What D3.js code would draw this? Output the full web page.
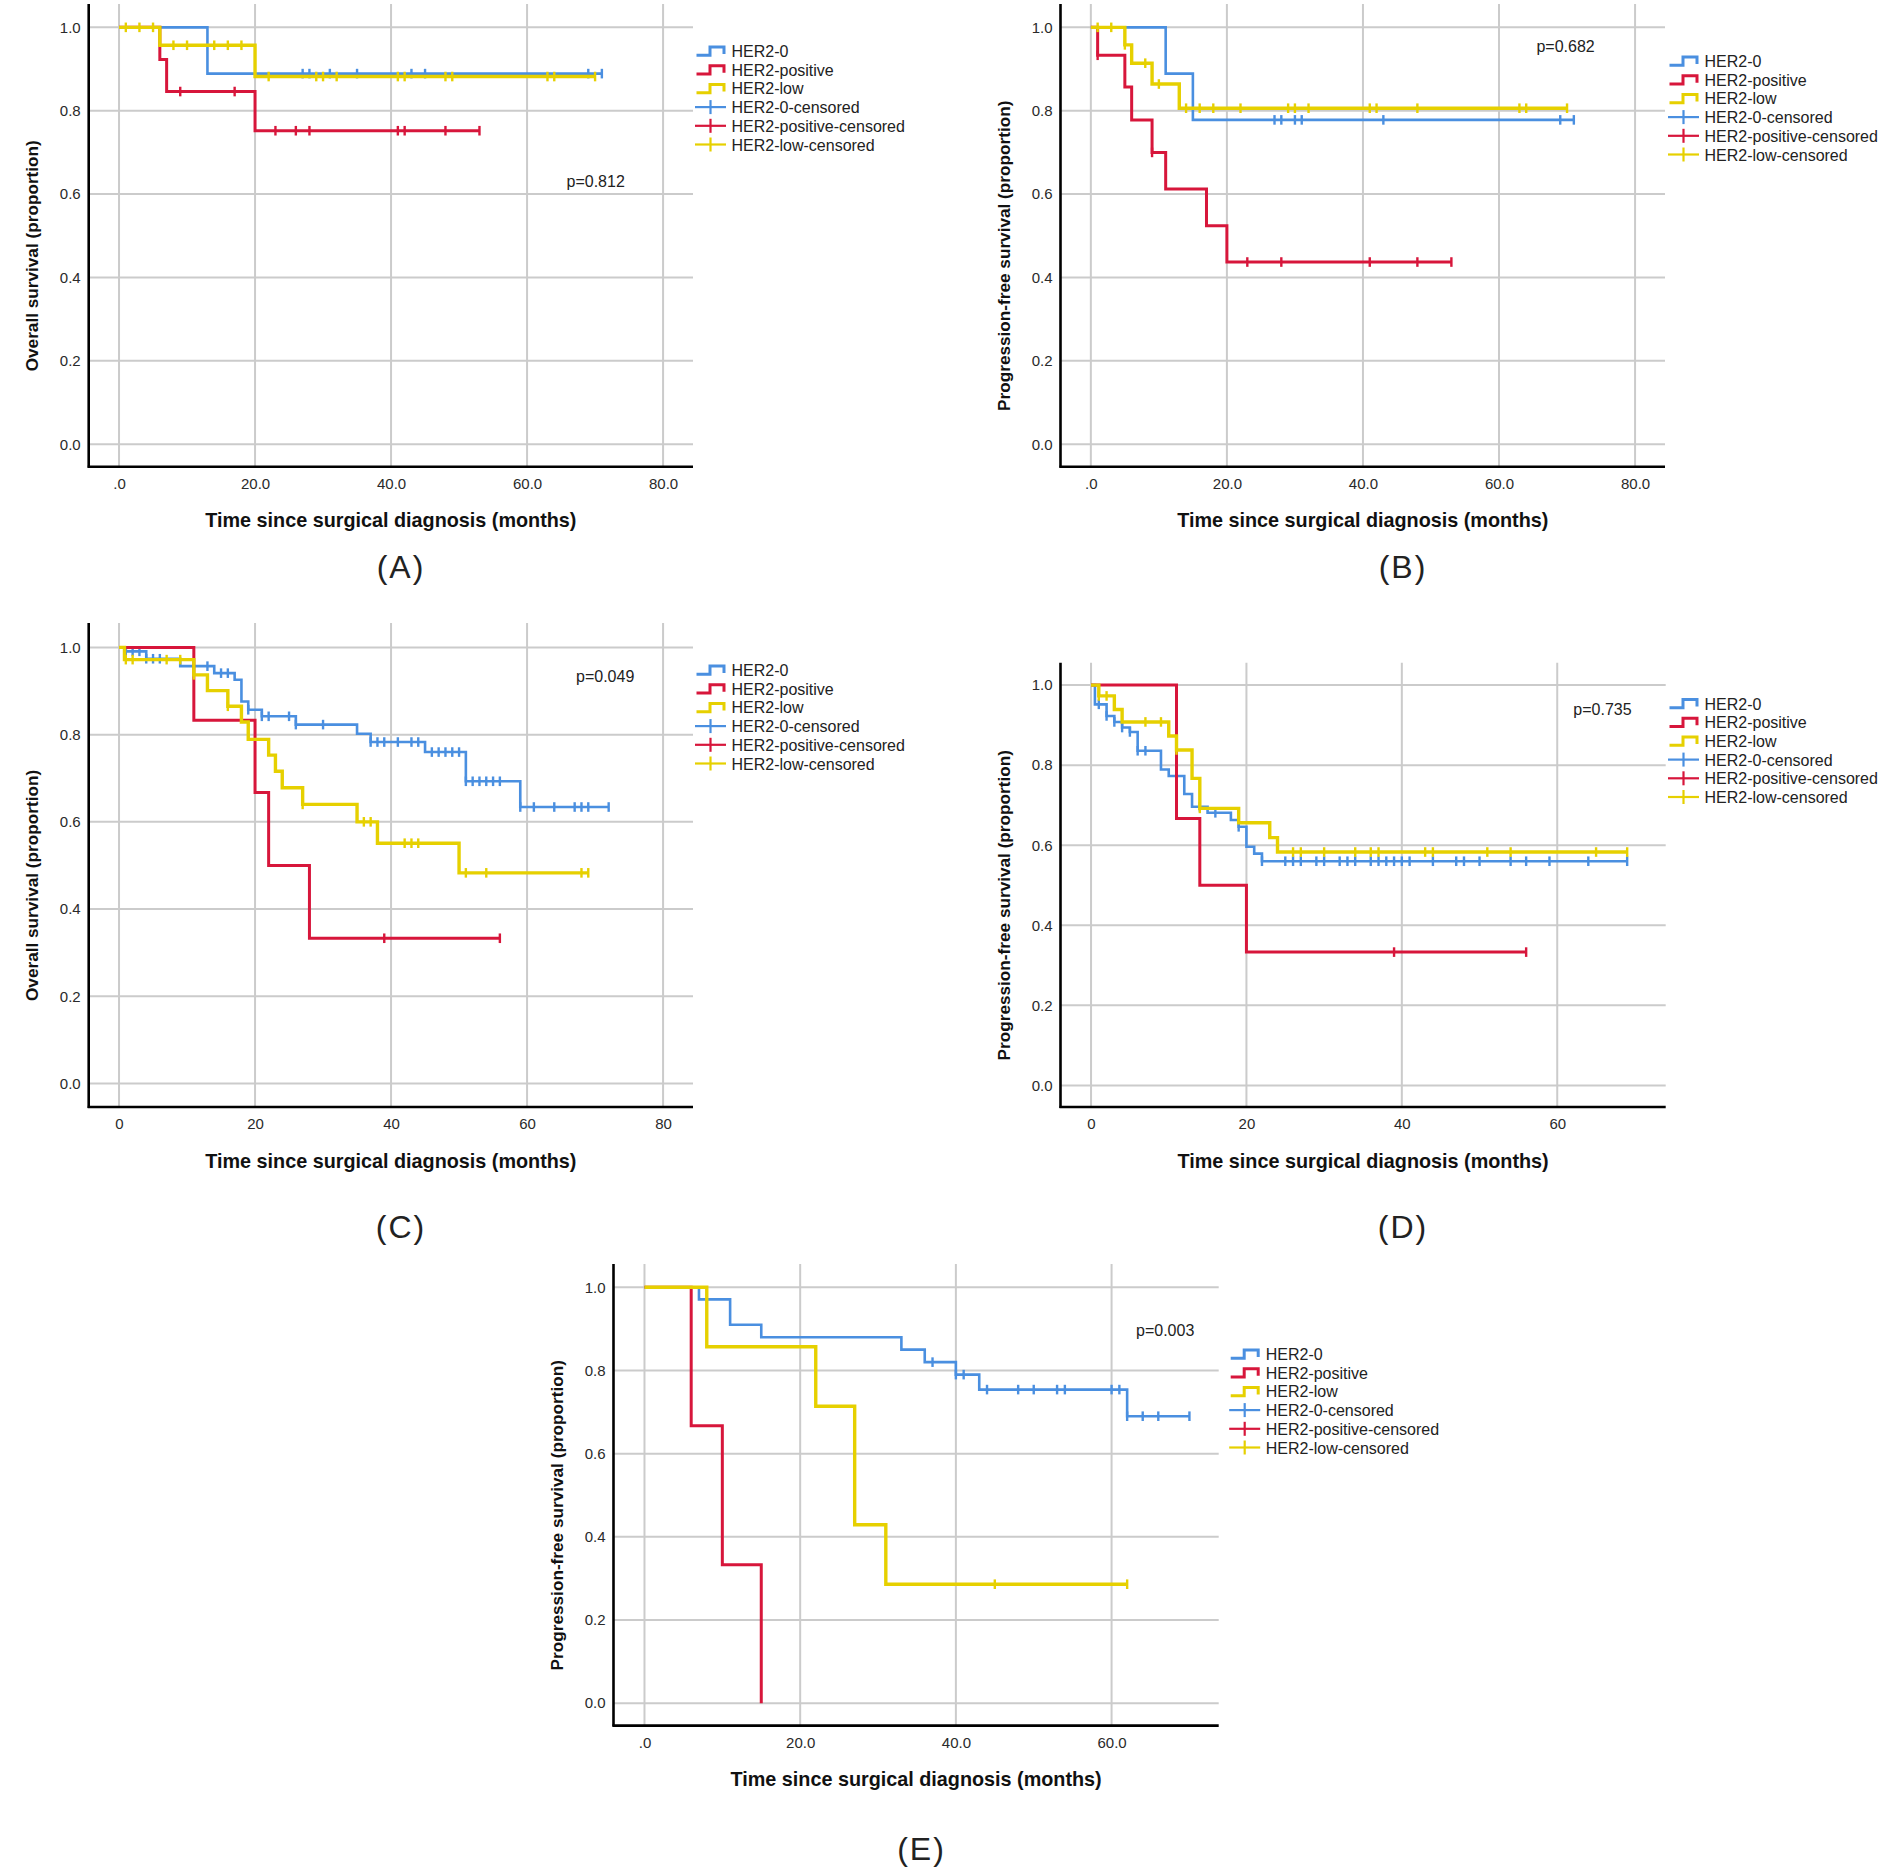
<!DOCTYPE html>
<html>
<head>
<meta charset="utf-8">
<script src="https://cdn.jsdelivr.net/npm/d3@7"></script>
<style>
  body { margin: 0; background: #fff; }
  text { font-family: "Liberation Sans", Arial, sans-serif; }
</style>
</head>
<body>
<div id="chart"></div>
<script>
// series names and legend entries
const groupNames = ["HER2-0", "HER2-positive", "HER2-low"];
const legendLabels = ["HER2-0", "HER2-positive", "HER2-low",
  "HER2-0-censored", "HER2-positive-censored", "HER2-low-censored"];
const survivalTicks = [0, 0.2, 0.4, 0.6, 0.8, 1.0];

// (A) overall survival: event times, survival after each event, censored times
const aZeroTimes = [13];
const aZeroSurv = [0.889];
const aZeroCens = [27, 28, 31, 35, 43, 45, 69, 71];
const aPosTimes = [6, 7, 20];
const aPosSurv = [0.923, 0.846, 0.752];
const aPosCens = [9, 17, 23, 26, 28, 41, 42, 48, 53];
const aLowTimes = [6, 20];
const aLowSurv = [0.957, 0.882];
const aLowCens = [1, 3, 5, 8, 10, 14, 16, 18, 22, 29, 30, 32, 41, 42, 48, 49, 63, 64, 70];

// (B) progression-free survival
const bZeroTimes = [11, 15];
const bZeroSurv = [0.889, 0.778];
const bZeroCens = [27, 28, 30, 31, 43, 69, 71];
const bPosTimes = [1, 5, 6, 9, 11, 17, 20];
const bPosSurv = [0.933, 0.857, 0.778, 0.700, 0.612, 0.524, 0.437];
const bPosCens = [1, 9, 23, 28, 41, 48, 53];
const bLowTimes = [5, 6, 9, 13];
const bLowSurv = [0.958, 0.914, 0.864, 0.806];
const bLowCens = [1, 3, 5, 8, 10, 14, 16, 18, 22, 29, 30, 32, 41, 42, 48, 63, 64, 70];

// (C) overall survival
const cZeroTimes = [1, 4, 9, 14, 17, 18, 19, 21, 26, 35, 37, 45, 51, 59];
const cZeroSurv = [0.991, 0.974, 0.957, 0.941, 0.926, 0.876, 0.857, 0.842, 0.823, 0.802, 0.783, 0.760, 0.693, 0.634];
const cZeroCens = [1, 2, 3, 4, 5, 6, 13, 15, 16, 19, 21, 22, 25, 26, 30, 37, 38, 39, 41, 43, 44,
  46, 47, 48, 49, 50, 51, 52, 53, 54, 55, 56, 59, 61, 64, 67, 68, 69, 72];
const cPosTimes = [11, 20, 22, 28];
const cPosSurv = [0.833, 0.667, 0.500, 0.333];
const cPosCens = [39, 56];
const cLowTimes = [0.8, 11, 13, 16, 18, 19, 22, 23, 24, 27, 35, 38, 50];
const cLowSurv = [0.972, 0.937, 0.901, 0.865, 0.829, 0.789, 0.753, 0.716, 0.678, 0.640, 0.600, 0.551, 0.483];
const cLowCens = [1, 2, 7, 9, 11, 16, 27, 36, 37, 42, 43, 44, 51, 54, 68, 69];

// (D) progression-free survival
const dZeroTimes = [0.5, 2, 3, 4, 5, 6, 9, 10, 12, 13, 15, 18, 19, 20, 21, 22];
const dZeroSurv = [0.952, 0.923, 0.908, 0.894, 0.883, 0.836, 0.789, 0.773, 0.728, 0.696, 0.681, 0.663, 0.646, 0.596, 0.579, 0.560];
const dZeroCens = [1, 2, 3, 4, 5, 6, 7, 11, 14, 16, 19, 22, 25, 26, 27, 29, 30, 32, 33, 34, 36, 37,
  38, 39, 40, 41, 44, 47, 48, 50, 54, 56, 59, 64, 69];
const dPosTimes = [11, 14, 20];
const dPosSurv = [0.667, 0.500, 0.333];
const dPosCens = [39, 56];
const dLowTimes = [1, 3, 4, 10, 11, 13, 14, 19, 23, 24];
const dLowSurv = [0.973, 0.939, 0.908, 0.873, 0.838, 0.767, 0.692, 0.656, 0.619, 0.583];
const dLowCens = [1, 2, 7, 9, 11, 14, 26, 27, 30, 34, 36, 37, 43, 44, 51, 54, 65, 69];

// (E) progression-free survival
const eZeroTimes = [7, 11, 15, 33, 36, 40, 43, 62];
const eZeroSurv = [0.971, 0.910, 0.880, 0.850, 0.820, 0.790, 0.754, 0.690];
const eZeroCens = [37, 40, 41, 44, 48, 50, 53, 54, 60, 61, 62, 64, 66, 70];
const ePosTimes = [6, 10, 15];
const ePosSurv = [0.667, 0.333, 0];
const ePosCens = [];
const eLowTimes = [8, 22, 27, 31];
const eLowSurv = [0.857, 0.714, 0.429, 0.286];
const eLowCens = [45, 62];

const pValues = ["p=0.812", "p=0.682", "p=0.049", "p=0.735", "p=0.003"];

const colours = ["#4a8fe0", "#d7163b", "#e6d000"];
const lineWidths = [2.6, 3, 3.4];
const gridColour = "#cbcbcb";
const xTitle = "Time since surgical diagnosis (months)";

const decimalFormat = d => d === 0 ? ".0" : d3.format(".1f")(d);
const intFormat = d3.format("d");

let panels = [
  {label: "(A)", lx: 401, ly: 578, left: 88.7, right: 693, top: 4, bottom: 466.7,
   xDomain: [-4.46, 84.4], xTicks: [0, 20, 40, 60, 80], xFormat: decimalFormat,
   yTitle: "Overall survival (proportion)", p: pValues[0], px: 566.5, py: 187,
   legend: [696.5, 51],
   series: [[aZeroTimes, aZeroSurv, aZeroCens], [aPosTimes, aPosSurv, aPosCens], [aLowTimes, aLowSurv, aLowCens]]},
  {label: "(B)", lx: 1403, ly: 578, left: 1060.5, right: 1665, top: 4, bottom: 466.7,
   xDomain: [-4.46, 84.4], xTicks: [0, 20, 40, 60, 80], xFormat: decimalFormat,
   yTitle: "Progression-free survival (proportion)", p: pValues[1], px: 1536.4, py: 52,
   legend: [1669.5, 61],
   series: [[bZeroTimes, bZeroSurv, bZeroCens], [bPosTimes, bPosSurv, bPosCens], [bLowTimes, bLowSurv, bLowCens]]},
  {label: "(C)", lx: 401, ly: 1238, left: 88.7, right: 693, top: 623, bottom: 1107,
   xDomain: [-4.46, 84.4], xTicks: [0, 20, 40, 60, 80], xFormat: intFormat,
   yTitle: "Overall survival (proportion)", p: pValues[2], px: 576, py: 681.5,
   legend: [696.5, 670],
   series: [[cZeroTimes, cZeroSurv, cZeroCens], [cPosTimes, cPosSurv, cPosCens], [cLowTimes, cLowSurv, cLowCens]]},
  {label: "(D)", lx: 1403, ly: 1238, left: 1060.5, right: 1665.7, top: 662.7, bottom: 1107,
   xDomain: [-3.93, 73.96], xTicks: [0, 20, 40, 60], xFormat: intFormat,
   yTitle: "Progression-free survival (proportion)", p: pValues[3], px: 1573.3, py: 715,
   legend: [1669.5, 703.5],
   series: [[dZeroTimes, dZeroSurv, dZeroCens], [dPosTimes, dPosSurv, dPosCens], [dLowTimes, dLowSurv, dLowCens]]},
  {label: "(E)", lx: 921.5, ly: 1860, left: 613.5, right: 1218.7, top: 1264, bottom: 1725.6,
   xDomain: [-3.98, 73.76], xTicks: [0, 20, 40, 60], xFormat: decimalFormat,
   yTitle: "Progression-free survival (proportion)", p: pValues[4], px: 1136, py: 1336,
   legend: [1230.7, 1354],
   series: [[eZeroTimes, eZeroSurv, eZeroCens], [ePosTimes, ePosSurv, ePosCens], [eLowTimes, eLowSurv, eLowCens]]},
];

// step function points for a Kaplan-Meier curve
function kmSteps(times, surv, cens) {
  let pts = [[0, 1]];
  let prev = 1;
  times.forEach((t, i) => {
    pts.push([t, prev]);
    pts.push([t, surv[i]]);
    prev = surv[i];
  });
  let end = Math.max(times.length ? times[times.length - 1] : 0, cens.length ? d3.max(cens) : 0);
  pts.push([end, prev]);
  return pts;
}

function survivalAt(times, surv, t) {
  let s = 1;
  times.forEach((ti, i) => { if (ti <= t) s = surv[i]; });
  return s;
}

let svg = d3.select("#chart").append("svg")
  .attr("width", 1879).attr("height", 1870)
  .style("display", "block");

function drawPanel(p) {
  let x = d3.scaleLinear().domain(p.xDomain).range([p.left, p.right]);
  let y = d3.scaleLinear().domain([-0.054, 1.056]).range([p.bottom, p.top]);
  let g = svg.append("g").classed("panel", true);

  // grid
  g.append("g").selectAll("line").data(p.xTicks).join("line")
    .attr("x1", d => x(d)).attr("x2", d => x(d))
    .attr("y1", p.top).attr("y2", p.bottom)
    .attr("stroke", gridColour).attr("stroke-width", 2);
  g.append("g").selectAll("line").data(survivalTicks).join("line")
    .attr("x1", p.left).attr("x2", p.right)
    .attr("y1", d => y(d)).attr("y2", d => y(d))
    .attr("stroke", gridColour).attr("stroke-width", 2);

  // tick labels via d3 axes
  let xAxis = g.append("g")
    .attr("transform", `translate(0,${p.bottom})`)
    .call(d3.axisBottom(x).tickValues(p.xTicks).tickFormat(p.xFormat).tickSize(0).tickPadding(11.5));
  let yAxis = g.append("g")
    .attr("transform", `translate(${p.left},0)`)
    .call(d3.axisLeft(y).tickValues(survivalTicks).tickFormat(d3.format(".1f")).tickSize(0).tickPadding(8));
  for (let a of [xAxis, yAxis]) {
    a.select(".domain").remove();
    a.attr("font-family", null).attr("font-size", null);
    a.selectAll("text").attr("font-size", 15).attr("fill", "#2a2a2a");
  }

  // axis lines
  g.append("line").attr("x1", p.left).attr("x2", p.left).attr("y1", p.top).attr("y2", p.bottom + 1)
    .attr("stroke", "#000").attr("stroke-width", 2.6);
  g.append("line").attr("x1", p.left - 1).attr("x2", p.right).attr("y1", p.bottom).attr("y2", p.bottom)
    .attr("stroke", "#000").attr("stroke-width", 2.6);

  // curves
  let line = d3.line().x(d => x(d[0])).y(d => y(d[1]));
  p.series.forEach((s, i) => {
    let [times, surv, cens] = s;
    let sg = g.append("g").classed("series-" + i, true);
    sg.append("path")
      .attr("d", line(kmSteps(times, surv, cens)))
      .attr("fill", "none")
      .attr("stroke", colours[i])
      .attr("stroke-width", lineWidths[i])
      .attr("stroke-linejoin", "miter");
    sg.selectAll("line.cens").data(cens).join("line")
      .classed("cens", true)
      .attr("x1", d => x(d)).attr("x2", d => x(d))
      .attr("y1", d => y(survivalAt(times, surv, d)) - 4.8)
      .attr("y2", d => y(survivalAt(times, surv, d)) + 4.8)
      .attr("stroke", colours[i]).attr("stroke-width", 2.4);
  });

  // p value
  g.append("text").attr("x", p.px).attr("y", p.py)
    .attr("font-size", 16).attr("fill", "#222").text(p.p);

  // axis titles
  g.append("text")
    .attr("x", (p.left + p.right) / 2).attr("y", p.bottom + 60.5)
    .attr("text-anchor", "middle").attr("font-weight", "bold").attr("font-size", 19.8)
    .attr("fill", "#111").text(xTitle);
  let cy = (y(1) + y(0)) / 2 + 20;
  g.append("text")
    .attr("transform", `translate(${p.left - 57},${cy}) rotate(-90)`)
    .attr("y", 6)
    .attr("text-anchor", "middle").attr("font-weight", "bold").attr("font-size", 17.2)
    .attr("fill", "#111").text(p.yTitle);

  // panel label
  g.append("text").attr("x", p.lx).attr("y", p.ly)
    .attr("text-anchor", "middle").attr("font-size", 32).attr("letter-spacing", 2)
    .attr("fill", "#222").text(p.label);

  // legend
  let [lx, ly] = p.legend;
  let lg = g.append("g").attr("transform", `translate(${lx},${ly})`);
  legendLabels.forEach((name, i) => {
    let row = lg.append("g").attr("transform", `translate(0,${i * 18.7})`);
    let c = colours[i % 3];
    if (i < 3) {
      row.append("path").attr("d", "M0,4.3H13.5V-4H27.5V3")
        .attr("fill", "none").attr("stroke", c).attr("stroke-width", 3);
    } else {
      row.append("line").attr("x1", -1.5).attr("x2", 29.5).attr("y1", 0).attr("y2", 0)
        .attr("stroke", c).attr("stroke-width", 2.2);
      row.append("line").attr("x1", 14).attr("x2", 14).attr("y1", -7).attr("y2", 7)
        .attr("stroke", c).attr("stroke-width", 2.2);
    }
    row.append("text").attr("x", 35).attr("y", 6)
      .attr("font-size", 16).attr("fill", "#222").text(name);
  });
}

for (let p of panels) drawPanel(p);
</script>
</body>
</html>
